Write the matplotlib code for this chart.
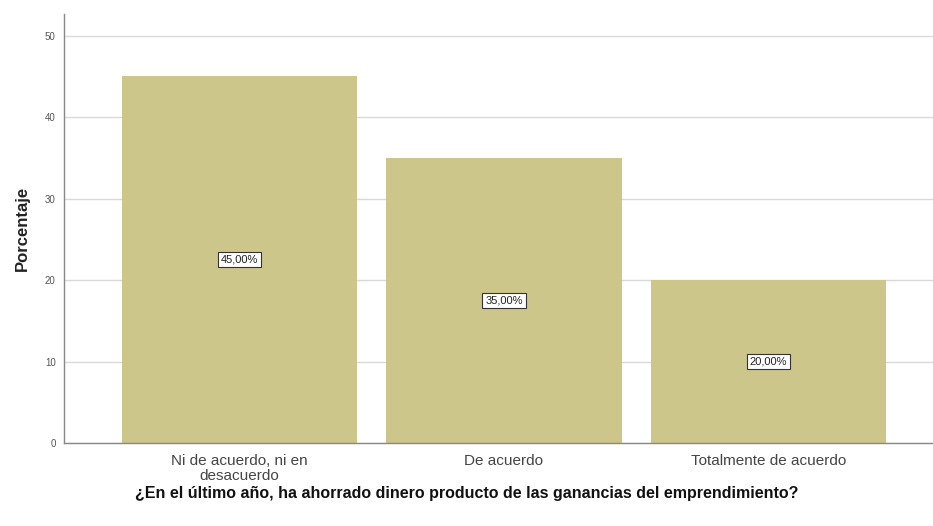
import numpy as np
import matplotlib.pyplot as plt

plt.rcParams['font.family'] = ['Liberation Sans', 'DejaVu Sans']

categories = ["Ni de acuerdo, ni en\ndesacuerdo", "De acuerdo", "Totalmente de acuerdo"]
values = [45.0, 35.0, 20.0]
labels = ["45,00%", "35,00%", "20,00%"]
yticks = [0, 10, 20, 30, 40, 50]

fig = plt.figure(figsize=(9.33, 5.26), dpi=100)
ax = fig.add_axes([0.0686, 0.1578, 0.9314, 0.8165])

x = np.arange(len(categories))
ax.bar(x, values, width=0.892, color="#cdc68a", zorder=2)

for xi, v, lab in zip(x, values, labels):
    ax.text(xi, v / 2, lab, ha="center", va="center", fontsize=8, color="#222222",
            bbox=dict(boxstyle="square,pad=0.25", fc="white", ec="#333333", lw=0.8), zorder=3)

ax.set_xlim(-0.6635, 2.622)
ax.set_ylim(0, 52.72)
ax.set_yticks(yticks)
ax.set_yticklabels([str(t) for t in yticks], fontsize=7, color="#555555")
ax.set_xticks(x)
ax.set_xticklabels(categories, fontsize=11, color="#444444", linespacing=1.1)
ax.tick_params(axis="x", length=0, pad=8)
ax.tick_params(axis="y", length=0, pad=6)
ax.yaxis.grid(True, color="#d9d9d9", lw=1.0, zorder=0)

for s in ["top", "right"]:
    ax.spines[s].set_visible(False)
for s in ["left", "bottom"]:
    ax.spines[s].set_color("#888888")
    ax.spines[s].set_linewidth(1.0)

ax.set_ylabel("Porcentaje", fontsize=12, fontweight="bold", color="#222222", labelpad=11)
fig.text(0.5, 0.062, "¿En el último año, ha ahorrado dinero producto de las ganancias del emprendimiento?",
         ha="center", va="center", fontsize=11.5, fontweight="bold", color="#111111")

fig.savefig("out.png", dpi=100)
